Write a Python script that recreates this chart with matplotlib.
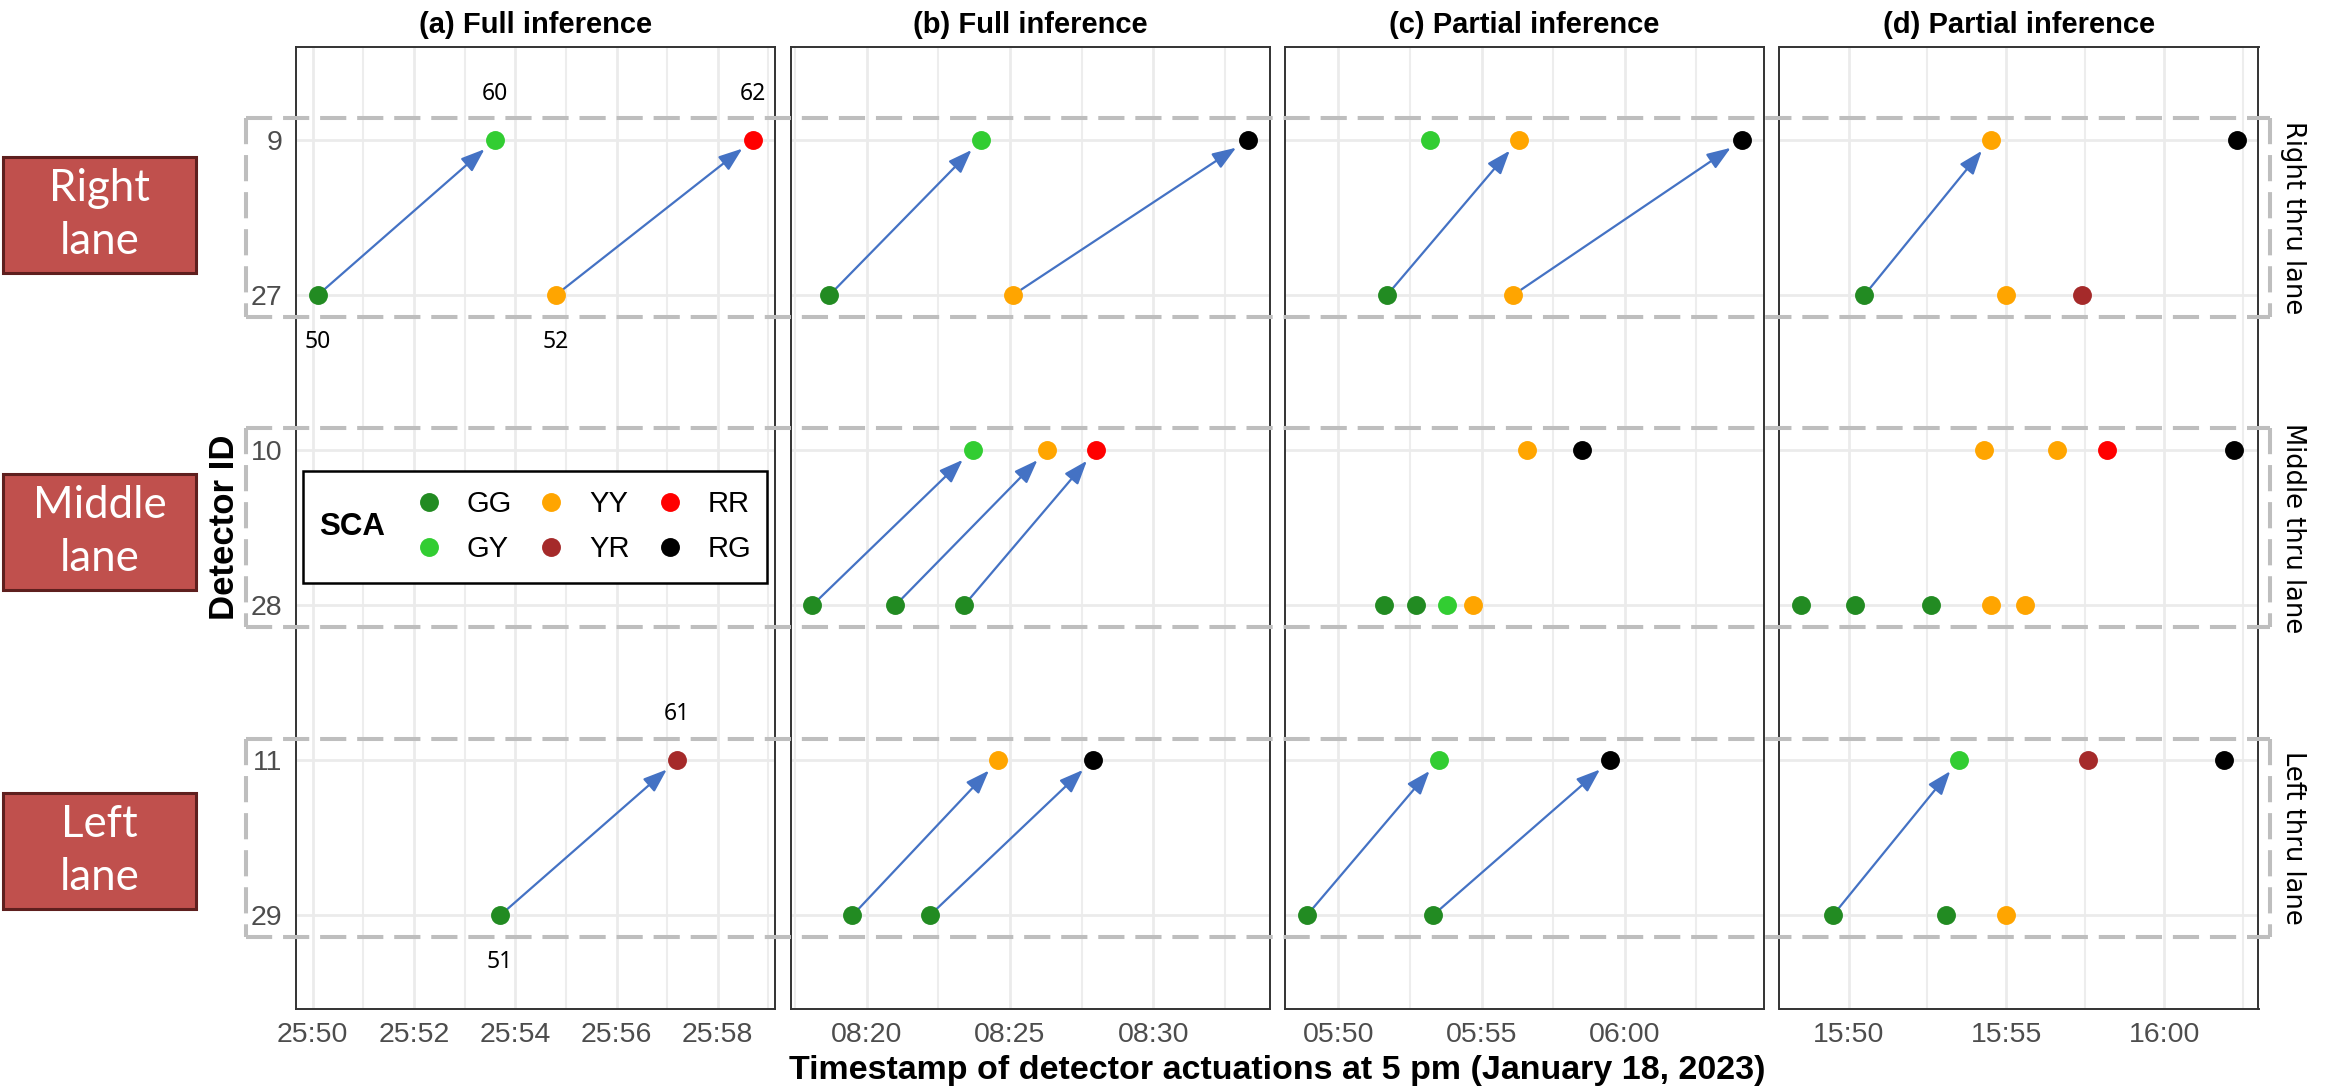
import matplotlib
matplotlib.use("Agg")
import matplotlib.pyplot as plt
import matplotlib.transforms as mtransforms
from matplotlib.lines import Line2D
from matplotlib.patches import Rectangle
from matplotlib.offsetbox import HPacker, DrawingArea
from matplotlib.ticker import MultipleLocator, FuncFormatter

# ---------------- data ----------------
detector_order = [9, 27, 10, 28, 11, 29]
lane_box_text = ["Right\nlane", "Middle\nlane", "Left\nlane"]
strip_text = ["Right thru lane", "Middle thru lane", "Left thru lane"]
panel_titles = ["(a) Full inference", "(b) Full inference",
                "(c) Partial inference", "(d) Partial inference"]

sca_levels = ["GG", "GY", "YY", "YR", "RR", "RG"]
sca_colors = ["#228B22", "#32CD32", "#FFA500", "#A52A2A", "#FF0000", "#000000"]

# times are seconds (mm:ss labels); 1550 = 25:50
a_det = [27, 27, 9, 9, 29, 11]
a_time = [1550.1, 1554.8, 1553.6, 1558.7, 1553.7, 1557.2]
a_sca = ["GG", "YY", "GY", "RR", "GG", "YR"]
a_from = [0, 1, 4]
a_to = [2, 3, 5]
a_labels = ["50", "52", "60", "62", "51", "61"]

# 500 = 08:20
b_det = [27, 27, 9, 9, 28, 28, 28, 10, 10, 10, 29, 29, 11, 11]
b_time = [498.7, 505.1, 504.0, 513.3, 498.1, 501.0, 503.4,
          503.7, 506.3, 508.0, 499.5, 502.2, 504.6, 507.9]
b_sca = ["GG", "YY", "GY", "RG", "GG", "GG", "GG",
         "GY", "YY", "RR", "GG", "GG", "YY", "RG"]
b_from = [0, 1, 4, 5, 6, 10, 11]
b_to = [2, 3, 7, 8, 9, 12, 13]

# 350 = 05:50
c_det = [9, 9, 9, 27, 27, 10, 10, 28, 28, 28, 28, 11, 11, 29, 29]
c_time = [353.2, 356.3, 364.1, 351.7, 356.1, 356.6, 358.5,
          351.6, 352.7, 353.8, 354.7, 353.5, 359.5, 348.9, 353.3]
c_sca = ["GY", "YY", "RG", "GG", "YY", "YY", "RG",
         "GG", "GG", "GY", "YY", "GY", "RG", "GG", "GG"]
c_from = [3, 4, 13, 14]
c_to = [1, 2, 11, 12]

# 950 = 15:50
d_det = [9, 9, 27, 27, 27, 10, 10, 10, 10, 28, 28, 28, 28, 28,
         11, 11, 11, 29, 29, 29]
d_time = [954.5, 962.3, 950.5, 955.0, 957.4, 954.3, 956.6, 958.2, 962.2,
          948.5, 950.2, 952.6, 954.5, 955.6, 953.5, 957.6, 961.9,
          949.5, 953.1, 955.0]
d_sca = ["YY", "RG", "GG", "YY", "YR", "YY", "YY", "RR", "RG",
         "GG", "GG", "GG", "YY", "YY", "GY", "YR", "RG",
         "GG", "GG", "YY"]
d_from = [2, 17]
d_to = [0, 14]

panels = [
    (a_det, a_time, a_sca, a_from, a_to, 2, 1),
    (b_det, b_time, b_sca, b_from, b_to, 5, 2.5),
    (c_det, c_time, c_sca, c_from, c_to, 5, 2.5),
    (d_det, d_time, d_sca, d_from, d_to, 5, 2.5),
]

# ---------------- figure ----------------
W, H = 2328, 1087
DPI = 100
plt.rcParams['font.family'] = ['Liberation Sans', 'DejaVu Sans']
fig = plt.figure(figsize=(W / DPI, H / DPI), dpi=DPI)

ax_left_px = [296, 790.5, 1285, 1779.5]
ax_w_px = 479
ax_top_px, ax_bot_px = 47, 1008.5

color_map = dict(zip(sca_levels, sca_colors))
ypos = {d: i for i, d in enumerate(detector_order)}


def mmss(s, pos=None):
    total = int(round(s))
    return f"{total // 60:02d}:{total % 60:02d}"


axes = []
for k, (det, tm, sca, fr, to, major, minor) in enumerate(panels):
    ax = fig.add_axes([ax_left_px[k] / W, 1 - ax_bot_px / H,
                       ax_w_px / W, (ax_bot_px - ax_top_px) / H],
                      sharey=axes[0] if axes else None)
    axes.append(ax)
    ys = [ypos[d] for d in det]
    for lev in sca_levels:
        xs = [t for t, s in zip(tm, sca) if s == lev]
        yy = [y for y, s in zip(ys, sca) if s == lev]
        if xs:
            ax.plot(xs, yy, ls='none', marker='o', ms=13.6,
                    mfc=color_map[lev], mec='none', zorder=4)
    for i, j in zip(fr, to):
        ax.annotate("", xy=(tm[j], ys[j]), xytext=(tm[i], ys[i]),
                    arrowprops=dict(arrowstyle='-|>,head_length=0.6,head_width=0.22',
                                    mutation_scale=24, color='#4472C4', lw=1.6,
                                    shrinkA=0, shrinkB=10),
                    zorder=3)
    lo, hi = min(tm), max(tm)
    pad = 0.05 * (hi - lo)
    ax.set_xlim(lo - pad, hi + pad)
    ax.set_ylim(len(detector_order) - 0.4, -0.6)
    ax.xaxis.set_major_locator(MultipleLocator(major))
    ax.xaxis.set_minor_locator(MultipleLocator(minor))
    ax.xaxis.set_major_formatter(FuncFormatter(mmss))
    ax.set_yticks(range(len(detector_order)))
    ax.set_yticklabels([str(d) for d in detector_order])
    ax.grid(which='major', axis='both', color='#EBEBEB', lw=2.0)
    ax.grid(which='minor', axis='x', color='#EDEDED', lw=1.5)
    ax.set_axisbelow(True)
    ax.tick_params(which='both', length=0, pad=10, labelsize=20.5,
                   labelcolor='#4D4D4D')
    if k > 0:
        ax.tick_params(axis='y', labelleft=False)
    for sp in ax.spines.values():
        sp.set_color('#333333')
        sp.set_linewidth(1.4)
    ax.set_title(panel_titles[k], fontsize=21, fontweight='bold', pad=10)

# point labels in panel (a)
ax0 = axes[0]
for t, d, lab in zip(a_time, a_det, a_labels):
    y = ypos[d]
    dy = 0.3 if y % 2 == 1 else -0.3
    ax0.text(t, y + dy, lab, ha='center', va='center', fontsize=16.5,
             family=['Noto Sans', 'DejaVu Sans'], color='black', zorder=5)

# legend with title on the left
handles = [Line2D([], [], ls='none', marker='o', ms=13.6, mfc=c, mec='none', label=l)
           for l, c in zip(sca_levels, sca_colors)]
leg = ax0.legend(handles=handles, ncol=3, title="SCA",
                 title_fontproperties={'family': 'Liberation Sans', 'weight': 'bold', 'size': 22.5},
                 prop={'family': 'Liberation Sans', 'size': 21},
                 loc='upper left', bbox_to_anchor=(0.0146, 0.559), borderaxespad=0,
                 frameon=True, fancybox=False, edgecolor='black', framealpha=1,
                 handlelength=1.0, handletextpad=0.8, columnspacing=0.86,
                 labelspacing=0.58, borderpad=0.55)
leg.get_frame().set_linewidth(1.8)
lb = leg._legend_box
spacer = DrawingArea(20.9, 57.4)
lb._children = [HPacker(pad=0, sep=0, align='center',
                        children=[leg._legend_title_box, spacer,
                                  leg._legend_handle_box])]
leg.set_zorder(6)

# dashed lane boxes (x in figure, y in data)
trans = mtransforms.blended_transform_factory(fig.transFigure, ax0.transData)
x0f, x1f = 246 / W, 2270 / W
m = 0.14
for i in range(3):
    yt, yb = 2 * i - m, 2 * i + 1 + m
    segs = [([x0f, x1f], [yt, yt]), ([x0f, x1f], [yb, yb]),
            ([x0f, x0f], [yt, yb]), ([x1f, x1f], [yt, yb])]
    for xs, yy in segs:
        ln = Line2D(xs, yy, transform=trans, color='#BEBEBE', lw=2.9,
                    dashes=(6.5, 2.7), solid_capstyle='butt',
                    dash_capstyle='butt', zorder=3)
        fig.add_artist(ln)
    fig.text(2293 / W, 2 * i + 0.5, strip_text[i], transform=trans,
             rotation=270, ha='center', va='center', fontsize=18.5,
             family=['DejaVu Sans'], color='black')

# red lane boxes on the left
box_tops = [157, 474, 793]
box_h = 116
for i, top in enumerate(box_tops):
    rect = Rectangle((3 / W, 1 - (top + box_h) / H), 193 / W, box_h / H,
                     transform=fig.transFigure, facecolor='#C0504D',
                     edgecolor='#5E1F1E', lw=2.2)
    fig.add_artist(rect)
    fig.text((3 + 193 / 2) / W, 1 - (top + box_h / 2) / H, lane_box_text[i],
             ha='center', va='center', color='white', fontsize=31.5,
             family=['Lato', 'DejaVu Sans'], linespacing=1.38)

# axis titles
fig.text(1277 / W, 1 - 1079 / H,
         "Timestamp of detector actuations at 5 pm (January 18, 2023)",
         ha='center', va='baseline', fontsize=24.5, fontweight='bold')
fig.text(224 / W, 1 - 527 / H, "Detector ID", rotation=90, ha='center',
         va='center', fontsize=25, fontweight='bold')

fig.savefig("out.png", dpi=DPI)
